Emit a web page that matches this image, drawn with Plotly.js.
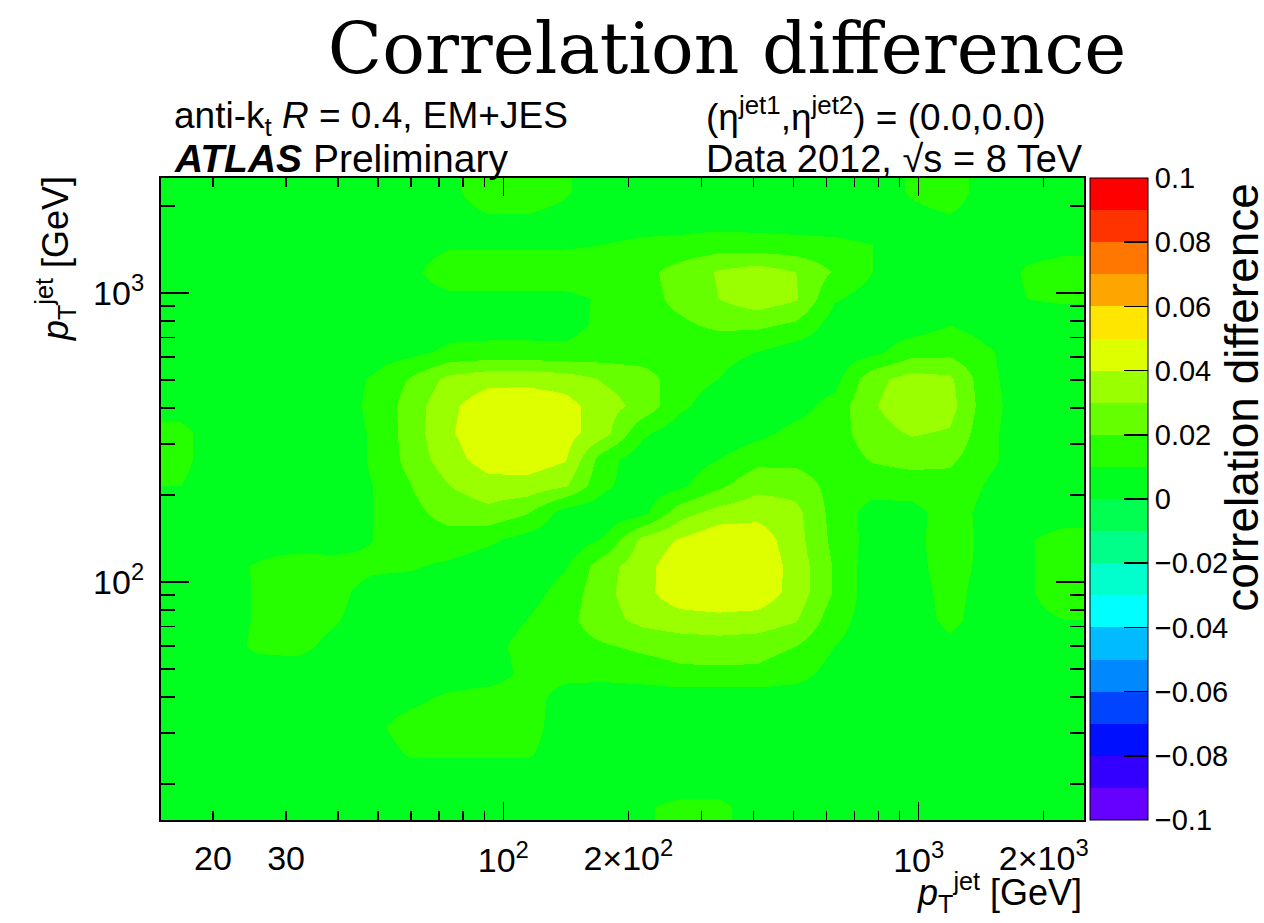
<!DOCTYPE html>
<html><head><meta charset="utf-8">
<script src="https://cdn.plot.ly/plotly-3.0.1.min.js"></script>
<style>html,body{margin:0;padding:0;background:#fff}#chart{width:1264px;height:923px}</style>
</head><body><div id="chart"></div>
<script>
// Histogram binning in jet pT (GeV): log-uniform bin edges from 15 to 2500 GeV
const ptBinEdges = [15, 18.56, 22.97, 28.43, 35.19, 43.55, 53.90, 66.70, 82.55, 102.2, 126.4, 156.5,
  193.7, 239.7, 296.6, 367.1, 454.4, 562.3, 696.0, 861.3, 1066, 1319, 1633, 2021, 2500];

// Correlation difference (x1000); rows from highest pT (top) to lowest (bottom),
// columns from lowest pT (left) to highest (right).
const corrDiffX1000 = [
  [5,5,5,5,5,5,5,8,15,15,11,5,5,5,5,5,5,5,5,11,15,5,5,5],
  [5,5,5,5,5,5,5,6,9,9,7,5,5,5,5,5,5,5,5,7,9,5,5,5],
  [5,5,5,5,5,5,6,9,9,9,9,10,12,13,15,14,13,12,10,5,5,5,7,8],
  [5,5,5,5,5,5,8,15,15,15,15,15,17,24,31,35,30,19,10,5,5,5,11,13],
  [5,5,5,5,5,5,6,8,8,8,8,11,16,23,30,36,31,11,6,5,5,5,10,11],
  [5,5,5,5,5,5,5,6,6,6,7,12,15,18,22,22,18,5,4,5,10,6,6,6],
  [5,5,5,5,5,5,7,12,13,13,12,14,14,14,13,10,5,4,7,16,17,11,5,5],
  [5,5,5,5,5,11,21,33,37,37,35,29,25,14,10,4,3,6,27,34,32,12,5,5],
  [7,5,5,5,5,12,25,38,46,47,44,34,27,12,5,3,6,14,29,37,34,13,5,5],
  [12,6,5,5,5,11,25,39,47,48,44,34,12,4,3,7,13,15,26,31,29,12,5,5],
  [12,6,5,5,5,11,24,36,45,46,41,14,4,4,10,17,17,14,21,24,22,12,5,5],
  [10,6,5,5,5,10,20,30,36,36,31,12,4,8,18,27,26,16,14,14,16,9,5,5],
  [5,5,5,5,5,10,17,24,27,21,5,3,7,26,34,37,33,16,6,7,14,7,5,5],
  [5,5,5,5,5,10,15,16,12,6,3,11,33,41,48,46,34,17,6,7,15,7,9,14],
  [5,6,11,15,14,12,11,8,4,3,9,26,36,47,49,48,36,19,4,7,14,7,9,14],
  [5,5,11,15,13,6,5,4,4,6,14,27,37,46,48,47,36,19,4,6,13,6,9,14],
  [5,5,11,15,11,5,5,5,5,10,17,26,33,36,37,36,31,14,5,6,12,6,8,10],
  [5,5,12,13,7,5,5,5,7,13,16,19,22,24,25,24,20,10,5,5,8,5,5,5],
  [5,5,5,5,5,5,5,5,6,12,12,13,15,18,18,18,14,6,5,5,5,5,5,5],
  [5,5,5,5,5,5,8,12,14,13,7,4,3,3,3,3,4,5,5,5,5,5,5,5],
  [5,5,5,5,5,8,14,15,15,13,6,5,5,5,5,5,5,5,5,5,5,5,5,5],
  [5,5,5,5,5,6,11,11,11,11,6,5,5,5,5,5,5,5,5,5,5,5,5,5],
  [5,5,5,5,5,5,5,5,5,5,5,5,5,5,5,5,5,5,5,5,5,5,5,5],
  [5,5,5,5,5,5,5,5,5,5,5,5,9,12,12,6,5,5,5,5,5,5,5,5]
];

// Palette: 20 colour levels from -0.1 to +0.1
const paletteColors = ['#6600ff','#3300ff','#0010ff','#0044ff','#0088ff','#00bbff','#00ffff','#00ffcc',
  '#00ff88','#00ff50','#00ff1e','#26ff00','#66ff00','#9aff00','#ddff00','#ffe600','#ffa500','#ff7700','#ff3300','#ff0000'];
const zMin = -0.1, zMax = 0.1;

// Tick labels
const xMajorVals = [100, 1000];
const xMajorText = ['10<sup>2</sup>', '10<sup>3</sup>'];
const xExtraVals = [20, 30, 200, 2000];
const xExtraText = ['20', '30', '2×10<sup>2</sup>', '2×10<sup>3</sup>'];
const minorVals = [20,30,40,50,60,70,80,90,200,300,400,500,600,700,800,900,2000];
const yMajorVals = [100, 1000];
const yMajorText = ['10<sup>2</sup>', '10<sup>3</sup>'];
const cbTickVals = [-0.1,-0.08,-0.06,-0.04,-0.02,0,0.02,0.04,0.06,0.08,0.1];
const cbTickText = ['\u22120.1','\u22120.08','\u22120.06','\u22120.04','\u22120.02','0','0.02','0.04','0.06','0.08','0.1'];
const ptMin = 15, ptMax = 2500;

// build z (bottom row first) and a stepped colourscale
const z = corrDiffX1000.slice().reverse().map(r => r.map(v => v / 1000));
const colorscale = [];
paletteColors.forEach((c, i) => {
  colorscale.push([i / paletteColors.length, c]);
  colorscale.push([(i + 1) / paletteColors.length, c]);
});

const FONT = 'Liberation Sans, Arial, Helvetica, sans-serif';
const axisRange = [Math.log10(ptMin), Math.log10(ptMax)];

const traces = [
  {
    type: 'heatmap', x: ptBinEdges, y: ptBinEdges, z: z,
    zmin: zMin, zmax: zMax, zsmooth: 'best', colorscale: colorscale,
    hoverinfo: 'skip',
    colorbar: {
      x: (1090 - 161) / 924, xanchor: 'left', xpad: 0,
      y: 0.5, yanchor: 'middle', len: 1, lenmode: 'fraction', ypad: 0,
      thickness: 58, thicknessmode: 'pixels',
      outlinewidth: 1, outlinecolor: '#000',
      tickmode: 'array', tickvals: cbTickVals, ticktext: cbTickText,
      ticks: 'inside', ticklen: 24, tickwidth: 1.5, tickcolor: '#000',
      tickfont: {family: FONT, size: 29, color: '#000'}
    }
  },
  {type: 'scatter', x: [], y: [], xaxis: 'x2', yaxis: 'y', hoverinfo: 'skip', showlegend: false}
];

const layout = {
  width: 1264, height: 923,
  margin: {l: 161, r: 179, t: 178, b: 103, pad: 0},
  paper_bgcolor: '#fff', plot_bgcolor: '#fff',
  font: {family: FONT, color: '#000', size: 34},
  showlegend: false,
  title: {text: 'Correlation difference', xref: 'container', yref: 'container',
    x: 727 / 1264, xanchor: 'center', y: 1 - 48 / 923, yanchor: 'middle',
    font: {family: 'DejaVu Serif, serif', size: 71, color: '#000'}},
  xaxis: {
    type: 'log', range: axisRange, showgrid: false, zeroline: false,
    showline: true, linecolor: '#000', linewidth: 2, mirror: 'ticks',
    tickmode: 'array', tickvals: xMajorVals, ticktext: xMajorText,
    ticks: 'inside', ticklen: 18, tickwidth: 1.5, tickcolor: '#000',
    ticklabelstandoff: 9,
    minor: {tickmode: 'array', tickvals: minorVals, ticks: 'inside', ticklen: 9, tickwidth: 1.5, tickcolor: '#000', showgrid: false},
    tickfont: {family: FONT, size: 34, color: '#000'}
  },
  xaxis2: {
    type: 'log', range: axisRange, overlaying: 'x', anchor: 'y', side: 'bottom',
    showgrid: false, zeroline: false, showline: false,
    tickmode: 'array', tickvals: xExtraVals, ticktext: xExtraText, ticks: '',
    ticklabelstandoff: 15,
    tickfont: {family: FONT, size: 34, color: '#000'}
  },
  yaxis: {
    type: 'log', range: axisRange, showgrid: false, zeroline: false,
    showline: true, linecolor: '#000', linewidth: 2, mirror: 'ticks',
    tickmode: 'array', tickvals: yMajorVals, ticktext: yMajorText,
    ticks: 'inside', ticklen: 28, tickwidth: 1.5, tickcolor: '#000',
    ticklabelstandoff: 8,
    minor: {tickmode: 'array', tickvals: minorVals, ticks: 'inside', ticklen: 14, tickwidth: 1.5, tickcolor: '#000', showgrid: false},
    tickfont: {family: FONT, size: 34, color: '#000'}
  },
  annotations: [
    {text: 'anti-k<sub>t</sub> <i>R</i> = 0.4, EM+JES', xref: 'paper', yref: 'paper',
      x: (172 - 161) / 924, y: (820 - 118) / 642, xanchor: 'left', yanchor: 'middle', showarrow: false,
      font: {family: FONT, size: 37, color: '#000'}},
    {text: '<b><i>ATLAS</i></b> Preliminary', xref: 'paper', yref: 'paper',
      x: (172 - 161) / 924, y: (820 - 159) / 642, xanchor: 'left', yanchor: 'middle', showarrow: false,
      font: {family: FONT, size: 39, color: '#000'}},
    {text: '(η<sup>jet1</sup>,η<sup>jet2</sup>) = (0.0,0.0)', xref: 'paper', yref: 'paper',
      x: (705 - 161) / 924, y: (820 - 115) / 642, xanchor: 'left', yanchor: 'middle', showarrow: false,
      font: {family: FONT, size: 37, color: '#000'}},
    {text: 'Data 2012, √s = 8 TeV', xref: 'paper', yref: 'paper',
      x: (705 - 161) / 924, y: (820 - 159) / 642, xanchor: 'left', yanchor: 'middle', showarrow: false,
      font: {family: FONT, size: 38, color: '#000'}},
    {text: '<i>p</i><sub>T</sub><sup>jet</sup> [GeV]', xref: 'paper', yref: 'paper',
      x: 1, y: (820 - 892) / 642, xanchor: 'right', yanchor: 'middle', showarrow: false,
      font: {family: FONT, size: 36, color: '#000'}},
    {text: '<i>p</i><sub>T</sub><sup>jet</sup> [GeV]', xref: 'paper', yref: 'paper', textangle: -90,
      x: (55 - 161) / 924, y: (820 - 259) / 642, xanchor: 'center', yanchor: 'middle', showarrow: false,
      font: {family: FONT, size: 36, color: '#000'}},
    {text: 'correlation difference', xref: 'paper', yref: 'paper', textangle: -90,
      x: (1243 - 161) / 924, y: (820 - 397) / 642, xanchor: 'center', yanchor: 'middle', showarrow: false,
      font: {family: FONT, size: 46, color: '#000'}}
  ]
};

Plotly.newPlot('chart', traces, layout, {displayModeBar: false, staticPlot: true});
</script>
</body></html>
